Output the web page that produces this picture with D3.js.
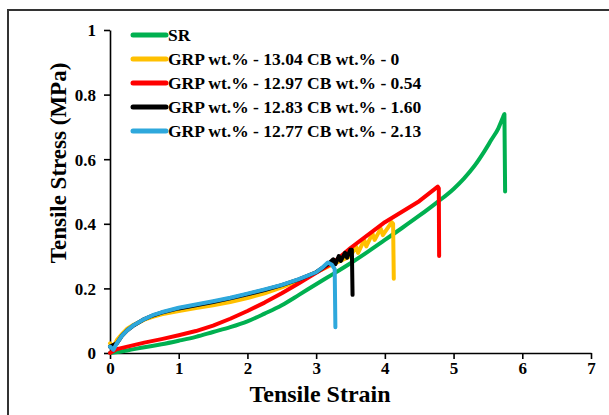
<!DOCTYPE html>
<html><head><meta charset="utf-8">
<script src="https://cdn.jsdelivr.net/npm/d3@7"></script>
<style>html,body{margin:0;padding:0;background:#fff;}svg{display:block;}
svg text{font-family:"Liberation Serif","DejaVu Serif",serif;font-weight:bold;fill:#000;}</style>
</head><body>
<svg id="c" width="609" height="415"></svg>
<script>
const xTicks = [0,1,2,3,4,5,6,7];
const yTicks = [0,0.2,0.4,0.6,0.8,1];
const seriesNames = ["SR","GRP wt.% - 13.04 CB wt.% - 0","GRP wt.% - 12.97 CB wt.% - 0.54","GRP wt.% - 12.83 CB wt.% - 1.60","GRP wt.% - 12.77 CB wt.% - 2.13"];
const seriesColors = ["#00b050","#ffc000","#ff0000","#000000","#2ea8dc"];
const srData = [[0,0],[0.25,0.008],[0.5,0.018],[0.75,0.027],[1,0.038],[1.25,0.05],[1.5,0.065],[1.75,0.08],[2,0.098],[2.25,0.122],[2.5,0.148],[2.75,0.18],[3,0.213],[3.25,0.245],[3.5,0.278],[3.75,0.313],[4,0.35],[4.25,0.387],[4.5,0.425],[4.75,0.465],[5,0.508],[5.15,0.54],[5.3,0.578],[5.45,0.625],[5.55,0.66],[5.65,0.695],[5.72,0.73],[5.74,0.74],[5.75,0.50]];
const grp1304 = [[0,0.03],[0.05,0.02],[0.1,0.04],[0.18,0.06],[0.25,0.075],[0.35,0.088],[0.5,0.103],[0.62,0.112],[0.75,0.12],[1,0.13],[1.25,0.139],[1.5,0.148],[1.75,0.158],[2,0.17],[2.25,0.185],[2.5,0.203],[2.75,0.225],[3,0.25],[3.25,0.275],[3.5,0.30],[3.58,0.33],[3.61,0.31],[3.7,0.35],[3.73,0.33],[3.82,0.37],[3.85,0.35],[3.94,0.385],[3.97,0.365],[4.1,0.405],[4.12,0.40],[4.13,0.23]];
const grp1297 = [[0,0],[0.1,0.012],[0.5,0.032],[0.75,0.043],[1,0.055],[1.25,0.068],[1.5,0.085],[1.75,0.106],[2,0.13],[2.25,0.156],[2.5,0.185],[2.75,0.216],[3,0.248],[3.25,0.28],[3.5,0.325],[4,0.405],[4.5,0.47],[4.77,0.515],[4.785,0.51],[4.79,0.30]];
const grp1283 = [[0,0.02],[0.1,0.03],[0.18,0.055],[0.25,0.07],[0.35,0.086],[0.5,0.105],[0.62,0.116],[0.75,0.125],[1,0.138],[1.25,0.148],[1.5,0.158],[1.75,0.169],[2,0.182],[2.25,0.195],[2.5,0.21],[2.75,0.228],[3,0.25],[3.2,0.28],[3.25,0.29],[3.28,0.275],[3.33,0.30],[3.36,0.285],[3.42,0.31],[3.45,0.295],[3.5,0.32],[3.52,0.32],[3.53,0.18]];
const grp1277 = [[0,0.02],[0.05,0.01],[0.1,0.03],[0.18,0.055],[0.25,0.07],[0.35,0.087],[0.5,0.105],[0.62,0.117],[0.75,0.126],[1,0.14],[1.25,0.15],[1.5,0.16],[1.75,0.171],[2,0.184],[2.25,0.197],[2.5,0.211],[2.75,0.229],[3,0.25],[3.1,0.266],[3.17,0.28],[3.23,0.273],[3.27,0.26],[3.28,0.08]];
const allSeries = [srData, grp1304, grp1297, grp1283, grp1277];

const svg = d3.select("#c");
svg.append("rect").attr("x",8).attr("y",10).attr("width",620).attr("height",420)
  .attr("fill","none").attr("stroke","#333").attr("stroke-width",2);

const x = d3.scaleLinear().domain([0,7]).range([110,591]);
const y = d3.scaleLinear().domain([0,1]).range([353,30]);

const xAxis = svg.append("g").attr("transform","translate(0,353)")
  .call(d3.axisBottom(x).tickValues(xTicks).tickSize(6).tickSizeOuter(0).tickFormat(d3.format("d")));
const yAxis = svg.append("g").attr("transform","translate(110,0)")
  .call(d3.axisLeft(y).tickValues(yTicks).tickSize(6).tickSizeOuter(0).tickFormat(d=>d===0||d===1?String(d):d3.format(".1f")(d)));
[xAxis,yAxis].forEach(g=>{
  g.selectAll("path,line").attr("stroke","#000").attr("stroke-width",1.6);
  g.selectAll("text").attr("font-size",17);
});
xAxis.selectAll("text").attr("dy",null).attr("y",21);
yAxis.selectAll("text").attr("x",-14).attr("dy","0.35em");

const line = d3.line().x(d=>x(d[0])).y(d=>y(d[1]));
const smooth = d3.line().curve(d3.curveMonotoneX).x(d=>x(d[0])).y(d=>y(d[1]));
allSeries.forEach((s,i)=>{
  svg.append("path").datum(s).attr("d",i===0?smooth:line).attr("fill","none")
    .attr("stroke",seriesColors[i]).attr("stroke-width",4).attr("stroke-linejoin","round").attr("stroke-linecap","round");
});

const leg = svg.append("g");
seriesNames.forEach((n,i)=>{
  const yy = 35 + i*24;
  leg.append("line").attr("x1",133).attr("x2",166).attr("y1",yy).attr("y2",yy)
    .attr("stroke",seriesColors[i]).attr("stroke-width",5).attr("stroke-linecap","round");
  leg.append("text").attr("x",168).attr("y",yy).attr("dy","0.35em").text(n).attr("font-size",17.5);
});

svg.append("text").attr("x",320).attr("y",402).attr("text-anchor","middle").text("Tensile Strain").attr("font-size",24);
svg.append("text").attr("transform","translate(66,163) rotate(-90)").attr("text-anchor","middle").text("Tensile Stress (MPa)").attr("font-size",23);
</script>
</body></html>
